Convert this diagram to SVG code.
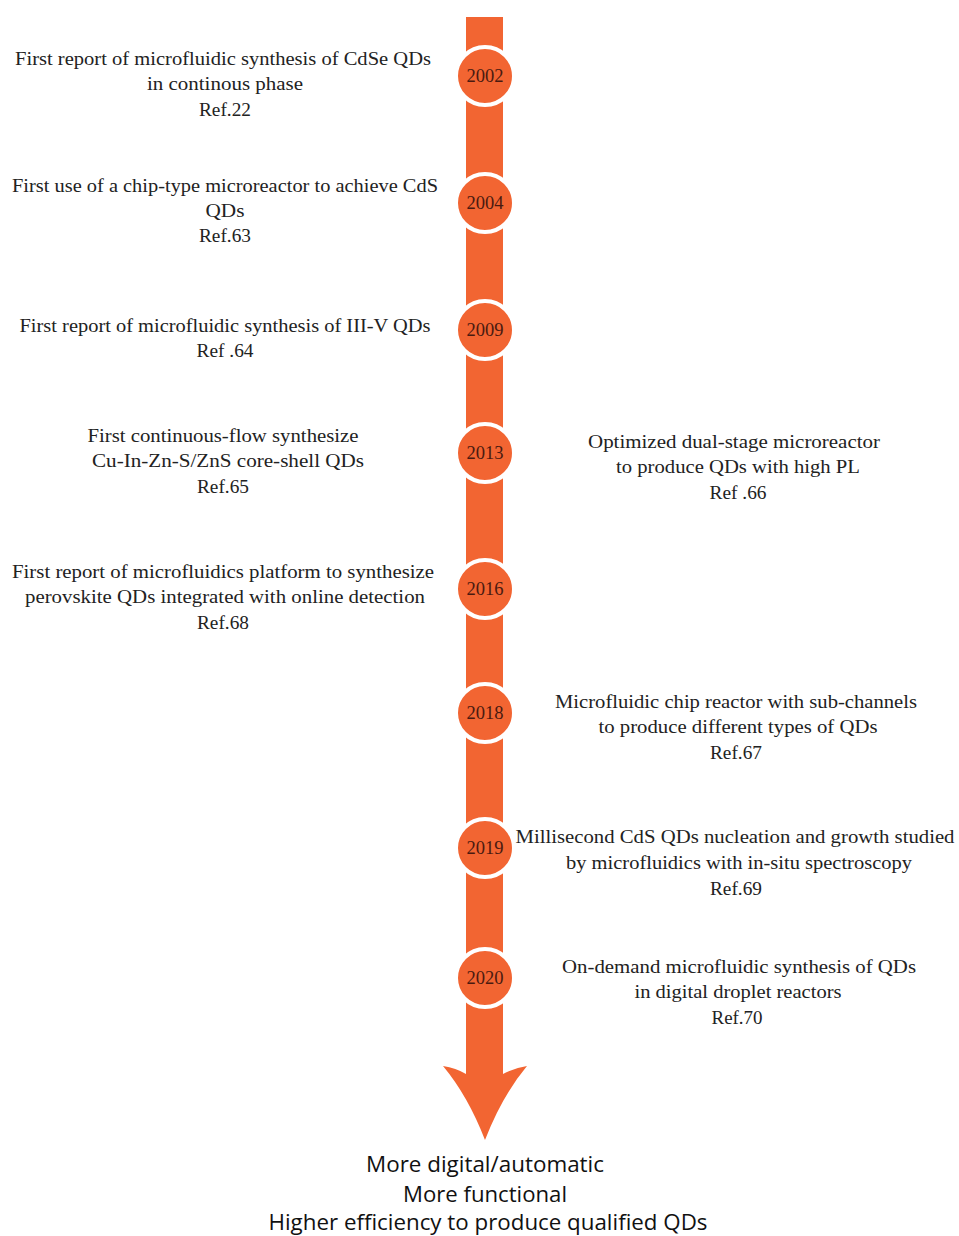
<svg xmlns="http://www.w3.org/2000/svg" width="959" height="1236" viewBox="0 0 959 1236">
<style>
.t{font-family:"Liberation Serif","Times New Roman",serif;font-size:19px;fill:#222;text-anchor:middle}
.y{font-family:"Liberation Serif","Times New Roman",serif;font-size:18.5px;fill:#4a1a10;text-anchor:middle}
.b{font-family:"Open Sans","Liberation Sans",Arial,sans-serif;font-size:22px;fill:#111;text-anchor:middle}
.c{fill:#F26532;stroke:#fff;stroke-width:4}
</style>
<rect width="959" height="1236" fill="#fff"/>
<g id="connectors">
<path d="M466,17 H503 V1074 Q514,1068 527,1066 Q502,1096 485,1140 Q468,1096 443,1066 Q456,1068 466,1074 Z" fill="#F26532"/>
</g>
<g id="y2002"><circle class="c" cx="485" cy="76" r="29"/><text class="y" x="485" y="82">2002</text></g>
<g id="y2004"><circle class="c" cx="485" cy="203" r="29"/><text class="y" x="485" y="209">2004</text></g>
<g id="y2009"><circle class="c" cx="485" cy="330" r="29"/><text class="y" x="485" y="336">2009</text></g>
<g id="y2013"><circle class="c" cx="485" cy="453" r="29"/><text class="y" x="485" y="459">2013</text></g>
<g id="y2016"><circle class="c" cx="485" cy="589" r="29"/><text class="y" x="485" y="595">2016</text></g>
<g id="y2018"><circle class="c" cx="485" cy="713" r="29"/><text class="y" x="485" y="719">2018</text></g>
<g id="y2019"><circle class="c" cx="485" cy="848" r="29"/><text class="y" x="485" y="854">2019</text></g>
<g id="y2020"><circle class="c" cx="485" cy="978" r="29"/><text class="y" x="485" y="984">2020</text></g>
<g id="e2002">
<text class="t" x="223" y="65" textLength="416" lengthAdjust="spacingAndGlyphs">First report of microfluidic synthesis of  CdSe QDs</text>
<text class="t" x="225" y="90" textLength="156" lengthAdjust="spacingAndGlyphs">in continous phase</text>
<text class="t" x="225" y="116" textLength="52" lengthAdjust="spacingAndGlyphs">Ref.22</text>
</g>
<g id="e2004">
<text class="t" x="225" y="192" textLength="426" lengthAdjust="spacingAndGlyphs">First use of a chip-type microreactor to achieve CdS</text>
<text class="t" x="225" y="217" textLength="39" lengthAdjust="spacingAndGlyphs">QDs</text>
<text class="t" x="225" y="242" textLength="52" lengthAdjust="spacingAndGlyphs">Ref.63</text>
</g>
<g id="e2009">
<text class="t" x="225" y="332" textLength="411" lengthAdjust="spacingAndGlyphs">First report of microfluidic synthesis of III-V QDs</text>
<text class="t" x="225" y="357" textLength="57" lengthAdjust="spacingAndGlyphs">Ref .64</text>
</g>
<g id="e2013a">
<text class="t" x="223" y="442" textLength="271" lengthAdjust="spacingAndGlyphs">First continuous-flow  synthesize</text>
<text class="t" x="228" y="467" textLength="272" lengthAdjust="spacingAndGlyphs">Cu-In-Zn-S/ZnS core-shell QDs</text>
<text class="t" x="223" y="493" textLength="52" lengthAdjust="spacingAndGlyphs">Ref.65</text>
</g>
<g id="e2013b">
<text class="t" x="734" y="448" textLength="292" lengthAdjust="spacingAndGlyphs">Optimized dual-stage microreactor</text>
<text class="t" x="738" y="473" textLength="244" lengthAdjust="spacingAndGlyphs">to produce QDs with high PL</text>
<text class="t" x="738" y="499" textLength="57" lengthAdjust="spacingAndGlyphs">Ref .66</text>
</g>
<g id="e2016">
<text class="t" x="223" y="578" textLength="422" lengthAdjust="spacingAndGlyphs">First report  of  microfluidics platform to synthesize</text>
<text class="t" x="225" y="603" textLength="400" lengthAdjust="spacingAndGlyphs">perovskite QDs integrated with  online detection</text>
<text class="t" x="223" y="629" textLength="52" lengthAdjust="spacingAndGlyphs">Ref.68</text>
</g>
<g id="e2018">
<text class="t" x="736" y="708" textLength="362" lengthAdjust="spacingAndGlyphs">Microfluidic chip reactor with sub-channels</text>
<text class="t" x="738" y="733" textLength="279" lengthAdjust="spacingAndGlyphs">to produce different types of QDs</text>
<text class="t" x="736" y="759" textLength="52" lengthAdjust="spacingAndGlyphs">Ref.67</text>
</g>
<g id="e2019">
<text class="t" x="735" y="843" textLength="439" lengthAdjust="spacingAndGlyphs">Millisecond CdS QDs nucleation and growth studied</text>
<text class="t" x="739" y="869" textLength="346" lengthAdjust="spacingAndGlyphs">by microfluidics with in-situ spectroscopy</text>
<text class="t" x="736" y="895" textLength="52" lengthAdjust="spacingAndGlyphs">Ref.69</text>
</g>
<g id="e2020">
<text class="t" x="739" y="973" textLength="354" lengthAdjust="spacingAndGlyphs">On-demand microfluidic synthesis of QDs</text>
<text class="t" x="738" y="998" textLength="207" lengthAdjust="spacingAndGlyphs">in digital droplet reactors</text>
<text class="t" x="737" y="1024" textLength="51" lengthAdjust="spacingAndGlyphs">Ref.70</text>
</g>
<g id="outcome">
<text class="b" x="485" y="1172" textLength="238" lengthAdjust="spacingAndGlyphs">More digital/automatic</text>
<text class="b" x="485" y="1202" textLength="164" lengthAdjust="spacingAndGlyphs">More functional</text>
<text class="b" x="488" y="1230" textLength="439" lengthAdjust="spacingAndGlyphs">Higher efficiency to produce qualified QDs</text>
</g>
</svg>
